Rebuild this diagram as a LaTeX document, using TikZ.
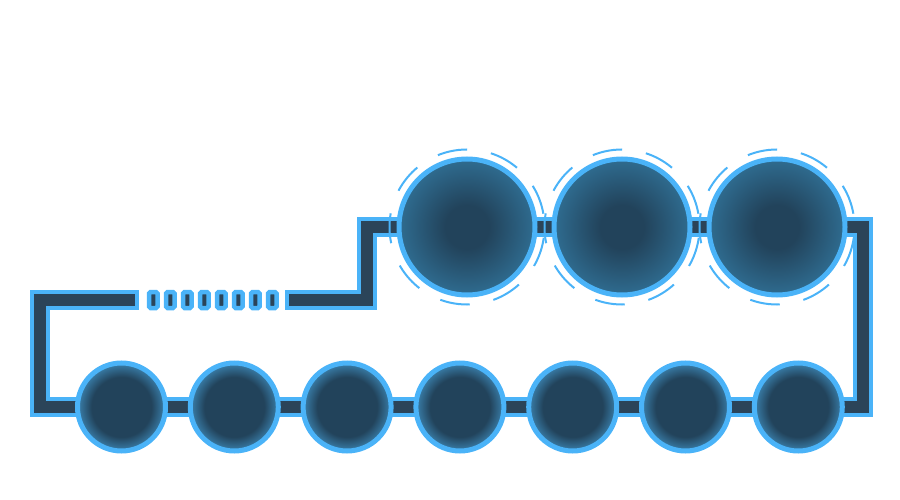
\documentclass[tikz,border=0pt]{standalone}
\definecolor{lb}{HTML}{4AB3F8}
\definecolor{dk}{HTML}{2B4459}
\definecolor{bc}{HTML}{22435B}
\definecolor{te}{HTML}{2F6C90}
\definecolor{be}{HTML}{3A80AC}
\pgfdeclareradialshading{topball}{\pgfpoint{0bp}{0bp}}{color(0bp)=(bc); color(8bp)=(bc); color(25bp)=(te); color(50bp)=(te)}
\pgfdeclareradialshading{botball}{\pgfpoint{0bp}{0bp}}{color(0bp)=(bc); color(17bp)=(bc); color(25bp)=(be); color(50bp)=(be)}
\tikzset{
  bigball/.style={circle, minimum size=136pt, inner sep=0pt, draw=lb, line width=5pt, shade, shading=topball},
  smallball/.style={circle, minimum size=88pt, inner sep=0pt, draw=lb, line width=5pt, shade, shading=botball},
  ring/.style={draw=lb, line width=2pt, dash pattern=on 30pt off 24.1pt, dash phase=43.3pt},
  tick/.style={rectangle, rounded corners=1.5pt, minimum width=8.5pt, minimum height=16pt, inner sep=0pt, draw=lb, fill=dk, line width=4.5pt},
  railout/.style={draw=lb, line width=20pt, line cap=rect, line join=miter},
  railin/.style={draw=dk, line width=12pt, line cap=rect, line join=miter},
}
\begin{document}
\begin{tikzpicture}[x=1pt,y=-1pt]
\useasboundingbox (0,0) rectangle (900,500);
% rail corners
\coordinate (a) at (129,300);
\coordinate (c1) at (40,300);
\coordinate (c2) at (40,407);
\coordinate (c3) at (863,407);
\coordinate (c4) at (863,227);
\coordinate (c5) at (367,227);
\coordinate (c6) at (367,300);
\coordinate (b) at (295,300);
\draw[railout] (a) -- (c1) -- (c2) -- (c3) -- (c4) -- (c5) -- (c6) -- (b);
\draw[railin] (a) -- (c1) -- (c2) -- (c3) -- (c4) -- (c5) -- (c6) -- (b);
% dashed section
\foreach \i in {0,...,7} \node[tick] (k\i) at (153.3+17*\i,300) {};
% bottom balls
\foreach \i in {0,...,6} \node[smallball] (s\i) at (121.5+112.8*\i,407) {};
% top balls
\node[bigball] (t1) at (467,227) {};
\node[bigball] (t2) at (622,227) {};
\node[bigball] (t3) at (777,227) {};
% dashed rings
\foreach \n in {t1,t2,t3} \draw[ring] (\n.center) circle[radius=77.5];
\end{tikzpicture}
\end{document}
